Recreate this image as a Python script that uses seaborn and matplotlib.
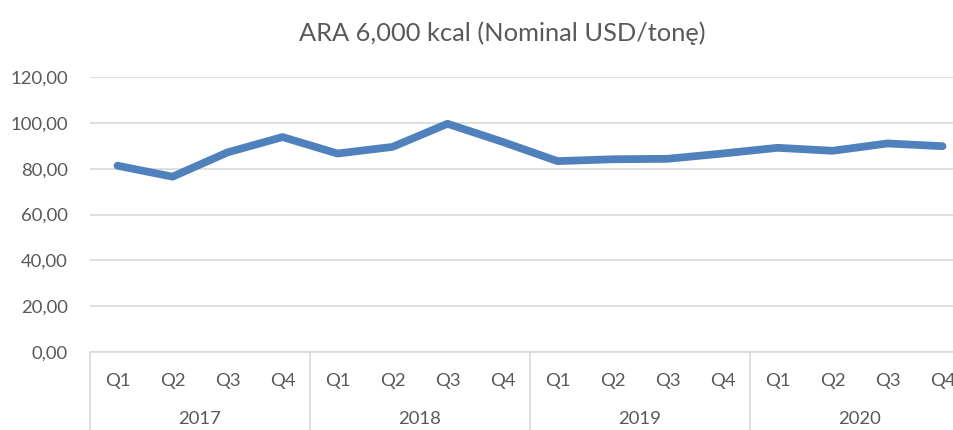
import pandas as pd
import matplotlib
matplotlib.use("Agg")
import matplotlib.pyplot as plt
import matplotlib.transforms as mtransforms
import seaborn as sns

# === DATA ===
years = ["2017", "2018", "2019", "2020"]
quarters = ["Q1", "Q2", "Q3", "Q4"]
prices = [81.3, 76.5, 87.1, 93.8,
          86.6, 89.5, 99.6, 91.7,
          83.3, 84.1, 84.3, 86.6,
          89.1, 87.8, 91.0, 89.8]

df = pd.DataFrame({
    "pos": range(len(prices)),
    "quarter": quarters * len(years),
    "price": prices,
})

sns.set_theme(style="white")
plt.rcParams["font.family"] = ["Lato", "DejaVu Sans"]

TXT = "#595959"
GRID = "#D9D9D9"
LINE = "#4F81BD"

fig = plt.figure(figsize=(9.54, 4.30), dpi=100)
# plot area runs a bit past the right edge, like the source
ax = fig.add_axes([90 / 954, 1 - 352 / 430, 880 / 954, 275 / 430])

sns.lineplot(data=df, x="pos", y="price", ax=ax, color=LINE, linewidth=5.6,
             solid_capstyle="round", solid_joinstyle="round")

ax.set_ylim(0, 120)
ax.set_xlim(-0.5, len(prices) - 0.5)
ax.set_yticks(range(0, 121, 20))
ax.set_yticklabels([f"{v},00" for v in range(0, 121, 20)], color=TXT, fontsize=13.3)
ax.set_xticks(df["pos"])
ax.set_xticklabels(df["quarter"], color=TXT, fontsize=13.3)
ax.tick_params(axis="y", length=0, pad=16)
ax.tick_params(axis="x", length=0, pad=15)
ax.yaxis.grid(True, color=GRID, linewidth=1.2)
ax.set_axisbelow(True)
for s in ["top", "right", "left"]:
    ax.spines[s].set_visible(False)
ax.spines["bottom"].set_color(GRID)
ax.spines["bottom"].set_linewidth(1.2)
ax.set_xlabel("")
ax.set_ylabel("")

# year groups under the quarters
trans = mtransforms.blended_transform_factory(ax.transData, ax.transAxes)
for i, yr in enumerate(years):
    ax.text(i * 4 + 1.5, -0.245, yr, transform=trans, ha="center", va="center",
            color=TXT, fontsize=13.3)
for b in range(len(years) + 1):
    ax.plot([b * 4 - 0.5, b * 4 - 0.5], [0, -0.3], transform=trans,
            color=GRID, linewidth=1.2, clip_on=False)

fig.text(502 / 954, 1 - 33 / 430, "ARA 6,000 kcal (Nominal USD/tonę)",
         ha="center", va="center", color=TXT, fontsize=18.3)

plt.savefig("out.png", dpi=100)
